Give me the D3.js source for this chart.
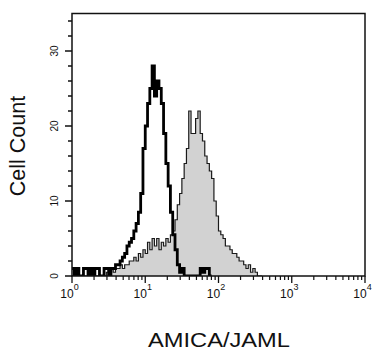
<!DOCTYPE html>
<html>
<head>
<meta charset="utf-8">
<script src="https://cdn.jsdelivr.net/npm/d3@7"></script>
<style>
body { margin: 0; background: #fff; }
text { font-family: "Liberation Sans", Arial, sans-serif; fill: #111; }
</style>
</head>
<body>
<div id="chart"></div>
<script>
// histogram channels: 32 bins per decade, starting at 10^0
var binsPerDecade = 32;

// isotype control (black outline)
var controlCounts = [
  1,0,1,0,0,1,1,0,1,0,1,1,0,0,1,1,0,
  1,1,1.5,1.5,2,2.5,3,4,4.5,5,6,7,8.5,11,
  17,20,23,25,28,24,26,25,23,19,15,12,8.5,5.5,3.5,1.5,0.5,
  1,0,0,0,0,0,0,0,1,0.5,1,1,0
];

// AMICA/JAML stained (grey filled)
var stainedCounts = [
  0,0,0,0,0,0,0,0,0,0,0,0,0,0,0,
  0.5,0,1,0.5,1,1,1.5,1,1.5,1.5,2,2,2.5,2,3,2.5,
  3.5,3,4.5,3.5,5,4,5,3.5,4.5,4,5,4.5,
  5.5,6,7.5,9.5,11,13,15,17,22,19,19,21,22,19,18,16,15,14,13,10,8,6,5.5,
  5,4,4,3.5,3,3,2.5,2,2,1.5,1,1.5,0.5,1,0.5,0,0
];

var yMajorTicks = [0, 10, 20, 30];
var yMinorTicks = [2, 4, 6, 8, 12, 14, 16, 18, 22, 24, 26, 28, 32, 34];
var xDecades = [0, 1, 2, 3, 4];
var xLabel = "AMICA/JAML";
var yLabel = "Cell Count";

var width = 372, height = 350;
var plot = {left: 72, right: 365, top: 13.5, bottom: 276};

var svg = d3.select("#chart").append("svg")
    .attr("width", width)
    .attr("height", height);

var x = d3.scaleLog().domain([1, 1e4]).range([plot.left, plot.right]);
var y = d3.scaleLinear().domain([0, 35]).range([plot.bottom, plot.top]);

function toBins(counts) {
  var pts = counts.map(function(c, i) {
    return {v: Math.pow(10, i / binsPerDecade), c: c};
  });
  pts.push({v: Math.pow(10, counts.length / binsPerDecade), c: 0});
  return pts;
}

svg.append("clipPath").attr("id", "clip")
  .append("rect")
    .attr("x", plot.left).attr("y", plot.top)
    .attr("width", plot.right - plot.left)
    .attr("height", plot.bottom - plot.top);

var g = svg.append("g").attr("clip-path", "url(#clip)");

var area = d3.area()
    .x(function(d) { return x(d.v); })
    .y0(y(0))
    .y1(function(d) { return y(d.c); })
    .curve(d3.curveStepAfter);

var line = d3.line()
    .x(function(d) { return x(d.v); })
    .y(function(d) { return y(d.c); })
    .curve(d3.curveStepAfter);

var stained = toBins(stainedCounts);
g.append("path").attr("d", area(stained))
    .attr("fill", "#d2d2d2");
g.append("path").attr("d", line(stained))
    .attr("fill", "none")
    .attr("stroke", "#1a1a1a")
    .attr("stroke-width", 1.2);

g.append("path").attr("d", line(toBins(controlCounts)))
    .attr("fill", "none")
    .attr("stroke", "#000")
    .attr("stroke-width", 2.8);

// frame
svg.append("rect")
    .attr("x", plot.left).attr("y", plot.top)
    .attr("width", plot.right - plot.left)
    .attr("height", plot.bottom - plot.top)
    .attr("fill", "none")
    .attr("stroke", "#111")
    .attr("stroke-width", 1.5);

// y ticks
svg.selectAll(".ymaj").data(yMajorTicks).enter().append("line")
    .attr("x1", plot.left - 7).attr("x2", plot.left)
    .attr("y1", y).attr("y2", y)
    .attr("stroke", "#111").attr("stroke-width", 1.5);
svg.selectAll(".ymin").data(yMinorTicks).enter().append("line")
    .attr("x1", plot.left - 4).attr("x2", plot.left)
    .attr("y1", y).attr("y2", y)
    .attr("stroke", "#111").attr("stroke-width", 1.5);
svg.selectAll(".ylab").data(yMajorTicks).enter().append("text")
    .attr("transform", function(d) { return "translate(58," + y(d) + ") rotate(-90)"; })
    .attr("text-anchor", "middle")
    .attr("font-size", 10)
    .text(function(d) { return d; });

// x ticks
var xMinor = [];
xDecades.slice(0, -1).forEach(function(k) {
  for (var m = 2; m <= 9; m++) xMinor.push(m * Math.pow(10, k));
});
svg.selectAll(".xmaj").data(xDecades).enter().append("line")
    .attr("x1", function(d) { return x(Math.pow(10, d)); })
    .attr("x2", function(d) { return x(Math.pow(10, d)); })
    .attr("y1", plot.bottom).attr("y2", plot.bottom + 7)
    .attr("stroke", "#111").attr("stroke-width", 1.3);
svg.selectAll(".xmin").data(xMinor).enter().append("line")
    .attr("x1", x).attr("x2", x)
    .attr("y1", plot.bottom).attr("y2", plot.bottom + 4)
    .attr("stroke", "#111").attr("stroke-width", 1.2);

var xl = svg.selectAll(".xlab").data(xDecades).enter().append("text")
    .attr("x", function(d) { return x(Math.pow(10, d)) - 2.5; })
    .attr("y", 298)
    .attr("text-anchor", "middle")
    .attr("font-size", 12);
xl.append("tspan").text("10");
xl.append("tspan")
    .attr("dy", -8)
    .attr("font-size", 9)
    .text(function(d) { return d; });

// axis titles
svg.append("text")
    .attr("transform", "translate(25,146) rotate(-90)")
    .attr("text-anchor", "middle")
    .attr("font-size", 21.5)
    .text(yLabel);

svg.append("text")
    .attr("x", 219).attr("y", 347)
    .attr("text-anchor", "middle")
    .attr("font-size", 21)
    .attr("textLength", 142)
    .attr("lengthAdjust", "spacingAndGlyphs")
    .text(xLabel);
</script>
</body>
</html>
